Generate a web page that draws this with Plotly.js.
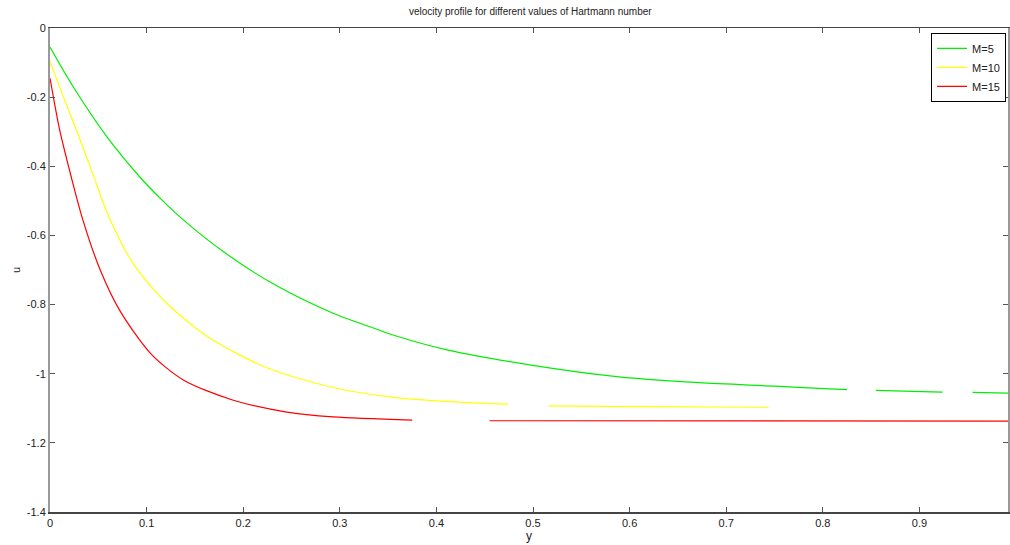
<!DOCTYPE html>
<html>
<head>
<meta charset="utf-8">
<script src="https://cdn.plot.ly/plotly-3.0.1.min.js"></script>
<style>html,body{margin:0;padding:0;background:#fff;}#chart{width:1010px;height:545px;}</style>
</head>
<body>
<div id="chart"></div>
<script>
// M = 5 (green)
const xM5 = [0, 0.024, 0.059, 0.093, 0.116, 0.138, 0.18, 0.231, 0.293, 0.339, 0.355, 0.411, 0.498, 0.589, 0.672, 0.75, 0.807, 0.825, null, 0.855, 0.903, 0.924, null, 0.955, 0.994];
const uM5 = [-0.055, -0.17, -0.315, -0.431, -0.498, -0.555, -0.648, -0.740, -0.825, -0.872, -0.888, -0.931, -0.975, -1.009, -1.026, -1.036, -1.044, -1.046, null, -1.048, -1.052, -1.053, null, -1.054, -1.056];
// M = 10 (yellow)
const xM10 = [0, 0.014, 0.028, 0.045, 0.06, 0.086, 0.121, 0.166, 0.224, 0.293, 0.358, 0.423, 0.474, null, 0.516, 0.6, 0.744];
const uM10 = [-0.097, -0.2, -0.3, -0.427, -0.54, -0.681, -0.797, -0.898, -0.982, -1.040, -1.069, -1.082, -1.088, null, -1.093, -1.095, -1.097];
// M = 15 (red)
const xM15 = [0, 0.010, 0.022, 0.034, 0.052, 0.072, 0.104, 0.138, 0.189, 0.245, 0.293, 0.375, null, 0.455, 0.994];
const uM15 = [-0.145, -0.295, -0.431, -0.555, -0.70, -0.816, -0.941, -1.018, -1.076, -1.111, -1.125, -1.134, null, -1.136, -1.137];

const seriesNames = ["M=5", "M=10", "M=15"];
const seriesColors = ["#00ee00", "#ffff00", "#ff0000"];
const xTicks = [0, 0.1, 0.2, 0.3, 0.4, 0.5, 0.6, 0.7, 0.8, 0.9];
const xTickText = ["0", "0.1", "0.2", "0.3", "0.4", "0.5", "0.6", "0.7", "0.8", "0.9"];
const yTicks = [0, -0.2, -0.4, -0.6, -0.8, -1, -1.2, -1.4];
const yTickText = ["0", "-0.2", "-0.4", "-0.6", "-0.8", "-1", "-1.2", "-1.4"];

const xs = [xM5, xM10, xM15];
const us = [uM5, uM10, uM15];
const traces = xs.map((x, i) => ({
  x: x, y: us[i], type: "scatter", mode: "lines", name: seriesNames[i],
  connectgaps: false,
  line: {color: seriesColors[i], width: 1.2, shape: "spline", smoothing: 0.8}
}));

const font = {family: "Liberation Sans, Arial, sans-serif", size: 11, color: "#222"};
const layout = {
  width: 1010, height: 545,
  margin: {l: 50, r: 2, t: 28, b: 33},
  paper_bgcolor: "#fff", plot_bgcolor: "#fff",
  font: font,
  title: {text: "velocity profile for different values of Hartmann number", font: {family: font.family, size: 10, color: "#222"}, x: 0.525, xanchor: "center", y: 0.978, yanchor: "middle"},
  showlegend: true,
  legend: {x: 0.998, xanchor: "right", y: 0.99, yanchor: "top", bgcolor: "#fff", bordercolor: "#000", borderwidth: 1, font: {family: font.family, size: 11, color: "#222"}, tracegroupgap: 0, itemwidth: 30},
  xaxis: {
    range: [0, 0.9917], autorange: false,
    tickvals: xTicks, ticktext: xTickText,
    ticks: "inside", ticklen: 5, tickcolor: "#555",
    showline: true, linecolor: "#444", linewidth: 1.5, mirror: "ticks",
    showgrid: false, zeroline: false,
    title: {text: "y", font: {family: font.family, size: 12, color: "#222"}, standoff: 2},
    automargin: false
  },
  yaxis: {
    range: [-1.4, 0], autorange: false,
    tickvals: yTicks, ticktext: yTickText,
    ticks: "inside", ticklen: 5, tickcolor: "#555",
    showline: true, linecolor: "#999", linewidth: 2, mirror: "ticks",
    showgrid: false, zeroline: false,
    title: {text: "u", font: {family: font.family, size: 11, color: "#222"}, standoff: 4},
    automargin: false
  }
};

Plotly.newPlot("chart", traces, layout, {displayModeBar: false, staticPlot: true});
</script>
</body>
</html>
